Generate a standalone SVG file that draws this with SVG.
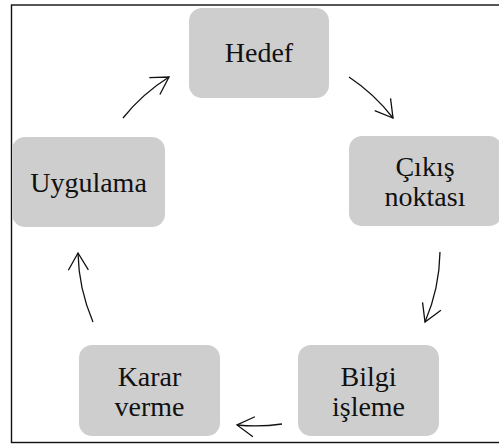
<svg xmlns="http://www.w3.org/2000/svg" width="499" height="444" viewBox="0 0 499 444">
  <style>
    .box { fill: #cfcecf; }
    .label { font-family: "Liberation Serif", "Times New Roman", serif; font-size: 28px; fill: #111; text-anchor: middle; }
    .conn { fill: none; stroke: #111; stroke-width: 1.3; marker-end: url(#head); }
  </style>
  <defs>
    <marker id="head" markerUnits="userSpaceOnUse" viewBox="-20 -12 22 24" refX="0" refY="0" markerWidth="22" markerHeight="24" orient="auto">
      <path d="M-17,-10 L0,0 L-17,10" fill="none" stroke="#111" stroke-width="1.3"/>
    </marker>
  </defs>

  <rect width="499" height="444" fill="#fff"/>

  <!-- frame -->
  <rect x="11.5" y="5" width="500" height="437.5" fill="none" stroke="#111" stroke-width="1.4"/>

  <g id="hedef">
    <rect class="box" x="189" y="8" width="140" height="90" rx="13"/>
    <text class="label" x="259" y="62">Hedef</text>
  </g>
  <g id="cikis-noktasi">
    <rect class="box" x="349" y="136" width="153" height="90" rx="13"/>
    <text class="label" x="425" y="176">Çıkış</text>
    <text class="label" x="425" y="206">noktası</text>
  </g>
  <g id="bilgi-isleme">
    <rect class="box" x="298" y="345" width="141" height="91" rx="13"/>
    <text class="label" x="368.5" y="385.5">Bilgi</text>
    <text class="label" x="368.5" y="415.5">işleme</text>
  </g>
  <g id="karar-verme">
    <rect class="box" x="79" y="345" width="141" height="91" rx="13"/>
    <text class="label" x="149.5" y="385.5">Karar</text>
    <text class="label" x="149.5" y="415.5">verme</text>
  </g>
  <g id="uygulama">
    <rect class="box" x="12" y="137" width="153" height="90" rx="13"/>
    <text class="label" x="88.5" y="192">Uygulama</text>
  </g>

  <g id="connectors">
    <path class="conn" d="M123,118 A184,184 0 0 1 169,77"/>
    <path class="conn" d="M349,77 A184,184 0 0 1 393,118"/>
    <path class="conn" d="M440,252 A184,184 0 0 1 425,322"/>
    <path class="conn" d="M282,424 A184,184 0 0 1 237,425"/>
    <path class="conn" d="M93,322 A184,184 0 0 1 78,253"/>
  </g>
</svg>
